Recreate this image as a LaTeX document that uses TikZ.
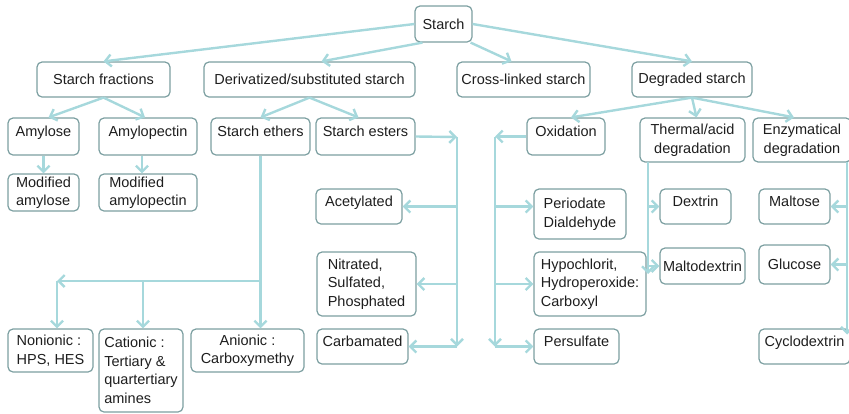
\documentclass[tikz,border=0pt]{standalone}
\usepackage{fontspec}
\setmainfont{Liberation Sans}
\usetikzlibrary{arrows.meta,positioning}
\definecolor{linec}{HTML}{A6D8DC}
\definecolor{boxc}{HTML}{7C9FA1}
\definecolor{txtc}{HTML}{1E1E1E}
\begin{document}
\begin{tikzpicture}[x=1pt,y=-1pt,font=\fontsize{14.5}{18.5}\selectfont,
box/.style={draw=boxc,line width=1.2pt,rounded corners=5pt,fill=white,text=txtc,
  inner xsep=2pt,inner ysep=2pt,align=left},
uptext/.style={text depth=10pt},
arr/.style={-{Straight Barb[length=6pt,width=12pt]},line width=2.4pt,linec}]
\useasboundingbox (0,0) rectangle (849,413);
% top levels
\node[box,minimum width=57pt,minimum height=36pt] (st) at (443.5,24) {Starch};
\node[box,minimum width=133pt,minimum height=35pt] (sf) at (103.5,79.5) {Starch fractions};
\node[box,minimum width=211pt,minimum height=35pt] (ds) at (309.5,79.5) {Derivatized/substituted starch};
\node[box,minimum width=133pt,minimum height=35pt] (cl) at (523.5,79.5) {Cross-linked starch};
\node[box,minimum width=120pt,minimum height=35pt] (dg) at (692,79.5) {Degraded starch};
\node[box,uptext,minimum width=71pt,minimum height=37pt] (am) at (43.5,136.5) {Amylose};
\node[box,uptext,minimum width=98pt,minimum height=37pt] (ap) at (148,136.5) {Amylopectin};
\node[box,uptext,minimum width=99pt,minimum height=37pt] (se) at (260.5,136.5) {Starch ethers};
\node[box,uptext,minimum width=99pt,minimum height=37pt] (es) at (365.5,136.5) {Starch esters};
\node[box,uptext,minimum width=78pt,minimum height=37pt] (ox) at (566,136.5) {Oxidation};
\node[box,minimum width=105pt,minimum height=44pt,align=center] (ta) at (692.5,140) {Thermal/acid\\degradation};
\node[box,minimum width=98pt,minimum height=44pt,align=center] (ez) at (802,140) {Enzymatical\\degradation};
% leaves
\node[box,minimum width=71pt,minimum height=37pt] (ma) at (43.5,192.5) {Modified\\amylose};
\node[box,minimum width=98pt,minimum height=37pt] (mp) at (148,192.5) {Modified\\amylopectin};
\node[box,uptext,minimum width=86pt,minimum height=35pt] (ac) at (359,206.5) {Acetylated};
\node[box,minimum width=99pt,minimum height=64pt] (ni) at (366.5,284) {Nitrated,\\Sulfated,\\Phosphated};
\node[box,uptext,minimum width=91pt,minimum height=35pt] (cb) at (362.5,346.5) {Carbamated};
\node[box,minimum width=85pt,minimum height=43pt] (nn) at (50.5,350.5) {Nonionic :\\HPS, HES};
\node[box,minimum width=84pt,minimum height=83pt] (ca) at (141,370.5) {Cationic :\\Tertiary \&\\quartertiary\\amines};
\node[box,minimum width=113pt,minimum height=43pt,align=center] (an) at (247.5,350.5) {Anionic :\\Carboxymethy};
\node[box,minimum width=92pt,minimum height=50pt] (pd) at (580,214) {Periodate\\Dialdehyde};
\node[box,minimum width=112pt,minimum height=64pt] (hy) at (590,284) {Hypochlorit,\\Hydroperoxide:\\Carboxyl};
\node[box,uptext,minimum width=85pt,minimum height=35pt] (ps) at (576.5,346.5) {Persulfate};
\node[box,uptext,minimum width=71pt,minimum height=35pt] (dx) at (695.5,206.5) {Dextrin};
\node[box,minimum width=85pt,minimum height=36pt] (md) at (702.5,266) {Maltodextrin};
\node[box,uptext,minimum width=71pt,minimum height=35pt] (mt) at (794.5,206.5) {Maltose};
\node[box,minimum width=71pt,minimum height=39pt] (gl) at (794.5,264.5) {Glucose};
\node[box,uptext,minimum width=91pt,minimum height=35pt] (cy) at (804.5,346.5) {Cyclodextrin};
% helper points
\coordinate (ej) at (260.5,281);
\coordinate (el) at (57,281);
\coordinate (et) at (457,137);
\coordinate (ot) at (495,136.5);
\coordinate (tt) at (648,162);
\coordinate (zt) at (847,162);
% connectors
\draw[arr] (st.west) -- (sf.north);
\draw[arr] ([xshift=8pt]st.south west) -- ([xshift=12pt]ds.north);
\draw[arr] ([xshift=-2pt]st.south east) -- ([xshift=-12pt]cl.north);
\draw[arr] (st.east) -- (dg.north);
\draw[arr] (sf.south) -- ([xshift=5pt]am.north);
\draw[arr] (sf.south) -- ([xshift=-3pt]ap.north);
\draw[arr] (ds.south) -- (se.north);
\draw[arr] (ds.south) -- ([xshift=-7pt]es.north);
\draw[arr] (dg.south) -- ([xshift=5pt]ox.north);
\draw[arr] (dg.south) -- ([xshift=4pt]ta.north);
\draw[arr] (dg.south) -- ([xshift=-8pt]ez.north);
\draw[arr] (am.south) -- (ma.north);
\draw[arr] ([xshift=-6pt]ap.south) -- ([xshift=-6pt]mp.north);
% ethers
\draw[arr] (se.south) -- (se.south |- an.north);
\draw[arr] (ej) -- (el);
\draw[arr] (el) -- (el |- nn.north);
\draw[arr] ([xshift=2pt]ca.north |- ej) -- ([xshift=2pt]ca.north);
% esters
\draw[arr] (es.east) -- (et);
\draw[arr] (et) -- (et |- cb.east);
\draw[arr] (et |- ac.east) -- (ac.east);
\draw[arr] (et |- ni.east) -- (ni.east);
\draw[arr] (et |- cb.east) -- (cb.east);
% oxidation
\draw[arr] (ox.west) -- (ot);
\draw[arr] (ot) -- (ot |- ps.west);
\draw[arr] (ot |- ac.east) -- (pd.west |- ac.east);
\draw[arr] (ot |- hy.west) -- (hy.west);
\draw[arr] (ot |- ps.west) -- (ps.west);
% thermal
\draw[arr] (tt) -- ([yshift=-8pt]tt |- md.west);
\draw[arr] (tt |- dx.west) -- (dx.west);
\draw[arr] (tt |- md.west) -- (md.west);
% enzymatical
\draw[arr] (zt) -- ([yshift=12pt]zt |- cy.east);
\draw[arr] (zt |- mt.east) -- (mt.east);
\draw[arr] (zt |- gl.east) -- (gl.east);
\end{tikzpicture}
\end{document}
